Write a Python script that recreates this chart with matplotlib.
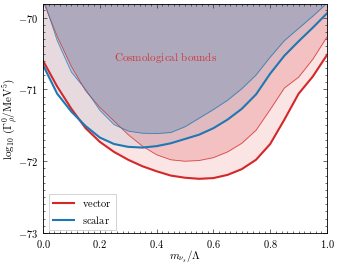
import numpy as np
import matplotlib
matplotlib.use("Agg")
import matplotlib.pyplot as plt
from matplotlib.ticker import MultipleLocator

plt.rcParams['mathtext.fontset'] = 'cm'
plt.rcParams['font.family'] = 'serif'
plt.rcParams['font.serif'] = ['DejaVu Serif']

# ---- data ----
x = [0.00, 0.05, 0.10, 0.15, 0.20, 0.25, 0.30, 0.35, 0.40, 0.45, 0.50,
     0.55, 0.60, 0.65, 0.70, 0.75, 0.80, 0.85, 0.90, 0.95, 1.00]
vector_low = [-70.60, -70.96, -71.27, -71.54, -71.73, -71.87, -71.98, -72.07, -72.14, -72.20, -72.23,
              -72.245, -72.235, -72.19, -72.11, -71.98, -71.76, -71.42, -71.06, -70.82, -70.52]
scalar_low = [-70.66, -71.06, -71.31, -71.51, -71.67, -71.76, -71.80, -71.81, -71.79, -71.75, -71.69,
              -71.63, -71.54, -71.42, -71.27, -71.07, -70.78, -70.53, -70.33, -70.14, -69.94]
vector_cosmo = [-69.77, -70.26, -70.68, -71.02, -71.25, -71.44, -71.63, -71.79, -71.91, -71.98, -72.00,
                -71.99, -71.95, -71.87, -71.75, -71.57, -71.28, -70.98, -70.83, -70.58, -70.27]
scalar_cosmo = [-69.72, -70.32, -70.76, -71.00, -71.29, -71.49, -71.58, -71.61, -71.615, -71.60, -71.52,
                -71.40, -71.28, -71.15, -70.99, -70.80, -70.55, -70.32, -70.15, -69.98, -69.80]
xticks = [0.0, 0.2, 0.4, 0.6, 0.8, 1.0]
yticks = [-73, -72, -71, -70]
legend_labels = ['vector', 'scalar']
annotation = 'Cosmological bounds'

RED = '#d62728'
BLUE = '#1f77b4'
TOP = -69.0

fig = plt.figure(figsize=(3.37, 2.66), dpi=100)
ax = fig.add_axes([0.1276, 0.124, 0.8427, 0.861])

ax.fill_between(x, vector_low, TOP, color=RED, alpha=0.12, lw=0)
ax.fill_between(x, vector_cosmo, TOP, color=RED, alpha=0.18, lw=0)
ax.fill_between(x, scalar_low, TOP, color=BLUE, alpha=0.09, lw=0)
ax.fill_between(x, scalar_cosmo, TOP, color=BLUE, alpha=0.25, lw=0)

ax.plot(x, vector_cosmo, color=RED, lw=0.6, alpha=0.8)
ax.plot(x, scalar_cosmo, color=BLUE, lw=0.6, alpha=0.8)
ax.plot(x, vector_low, color=RED, lw=1.5, label=r'$\mathrm{' + legend_labels[0] + '}$')
ax.plot(x, scalar_low, color=BLUE, lw=1.5, label=r'$\mathrm{' + legend_labels[1] + '}$')

ax.text(0.433, -70.55, r'$\mathrm{Cosmological\ bounds}$', color=RED, alpha=0.85,
        fontsize=8, ha='center', va='center')

ax.set_xlim(0, 1)
ax.set_ylim(-73, -69.81)
ax.set_xticks(xticks)
ax.set_xticklabels([r'$%.1f$' % t for t in xticks])
ax.set_yticks(yticks)
ax.set_yticklabels([r'$%d$' % t for t in yticks])
ax.xaxis.set_minor_locator(MultipleLocator(0.02))
ax.yaxis.set_minor_locator(MultipleLocator(0.1))
ax.tick_params(which='both', direction='in', top=True, right=True, labelsize=7.5,
               width=0.5, color='#333333')
ax.tick_params(which='major', length=3)
ax.tick_params(which='minor', length=1.6)
for s in ax.spines.values():
    s.set_linewidth(0.6)

ax.set_xlabel(r'$m_{\nu_s}/\Lambda$', fontsize=8, va='center')
ax.set_ylabel(r'$\log_{10}\,(\Gamma^0_\rho/\mathrm{MeV}^5)$', fontsize=8, va='center')
ax.xaxis.set_label_coords(0.5, -0.105)
ax.yaxis.set_label_coords(-0.118, 0.5)

leg = ax.legend(loc='lower left', bbox_to_anchor=(0.022, 0.012), borderaxespad=0,
                fontsize=7.5, handlelength=2.0, handletextpad=0.7, frameon=True,
                fancybox=False, edgecolor='#cccccc', framealpha=1)
leg.get_frame().set_linewidth(0.6)

fig.savefig('out.png', dpi=100)
